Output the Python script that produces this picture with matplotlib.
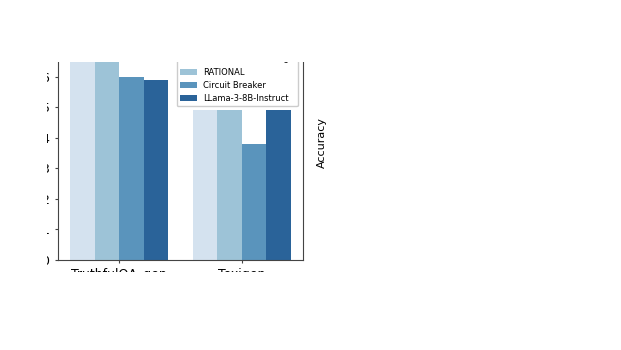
import matplotlib.pyplot as plt
import numpy as np
from matplotlib.patches import Rectangle

# Data
datasets = ['TruthfulQA_gen', 'Toxigen']
models = ['RATIONAL w/o Benign', 'RATIONAL', 'Circuit Breaker', 'LLama-3-8B-Instruct']
acc_rational_wo_benign = [0.78, 0.49]
acc_rational = [0.80, 0.49]
acc_circuit_breaker = [0.60, 0.38]
acc_llama = [0.59, 0.49]
y_ticks = [0.0, 0.1, 0.2, 0.3, 0.4, 0.5, 0.6]

colors = ['#d4e2ef', '#9dc3d7', '#5a94bc', '#2a6399']

W, H = 621, 350
fig = plt.figure(figsize=(W / 100, H / 100), dpi=100)
# axes box in pixels: left 58, right 303, top 46, bottom 260
ax = fig.add_axes([58 / W, 1 - 260 / H, (303 - 58) / W, (260 - 46) / H])

series = [acc_rational_wo_benign, acc_rational, acc_circuit_breaker, acc_llama]
x = np.arange(len(datasets))
width = 0.2
for i, (vals, name) in enumerate(zip(series, models)):
    ax.bar(x + (i - 1.5) * width, vals, width, color=colors[i], label=name)

ax.set_xlim(-0.5, 1.5)
ax.set_ylim(0, 0.7)
ax.set_xticks(x)
ax.set_xticklabels(datasets, fontsize=9)
ax.set_yticks(y_ticks)
ax.set_yticklabels([f'{v:.1f}' for v in y_ticks], fontsize=9)
for s in ax.spines.values():
    s.set_color('#444444')
ax.tick_params(colors='#444444', labelcolor='black', length=2.5, pad=3)

ax.legend(loc='upper right', fontsize=6, labelspacing=0.5, framealpha=1,
          bbox_to_anchor=(298 / W, 1 - 51 / H), bbox_transform=fig.transFigure,
          borderaxespad=0)

fig.text(322 / W, 1 - 142 / H, 'Accuracy', rotation=90, fontsize=8,
         ha='center', va='center')

# the reference is cropped to a window; mask everything outside it
mask_kw = dict(transform=fig.transFigure, facecolor='white', edgecolor='none', zorder=10)
fig.add_artist(Rectangle((0, 1 - 62 / H), 1, 62 / H, **mask_kw))
fig.add_artist(Rectangle((0, 0), 1, 1 - 272 / H, **mask_kw))
fig.add_artist(Rectangle((0, 0), 47 / W, 1, **mask_kw))

fig.savefig('out.png', dpi=100)
